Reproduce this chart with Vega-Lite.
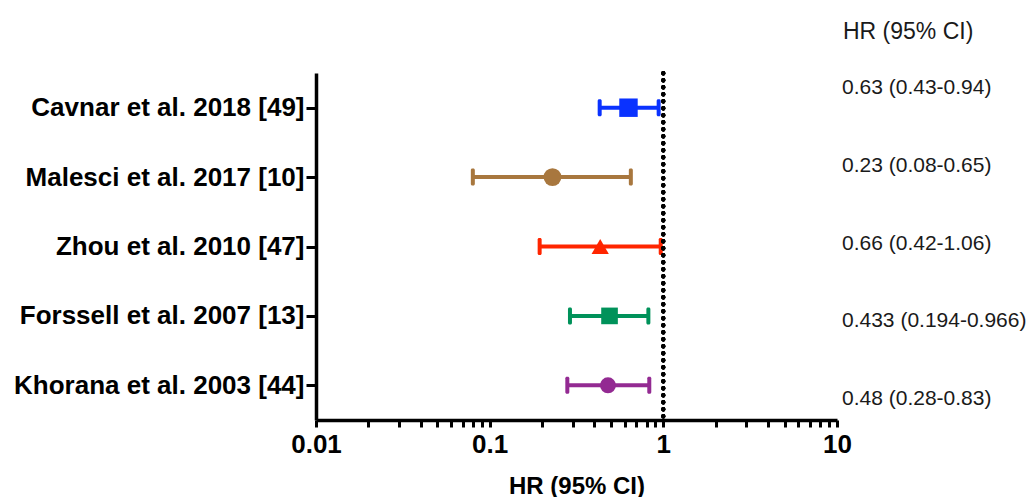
{
  "$schema": "https://vega.github.io/schema/vega-lite/v6.json",
  "autosize": "none",
  "width": 521,
  "height": 347,
  "padding": {"left": 316, "top": 73, "right": 196, "bottom": 77},
  "background": "white",
  "config": {
    "view": {"stroke": null},
    "font": "Liberation Sans"
  },
  "title": {
    "text": "HR (95% CI)",
    "anchor": "end",
    "align": "left",
    "frame": "group",
    "dx": 6,
    "offset": 4,
    "baseline": "bottom",
    "fontSize": 23,
    "fontWeight": "normal",
    "font": "Liberation Sans",
    "color": "#1a1a1a"
  },
  "data": {
    "values": [
      {"study": "Cavnar et al. 2018 [49]", "hr": 0.63, "lo": 0.43, "hi": 0.94, "text": "0.63 (0.43-0.94)"},
      {"study": "Malesci et al. 2017 [10]", "hr": 0.23, "lo": 0.08, "hi": 0.65, "text": "0.23 (0.08-0.65)"},
      {"study": "Zhou et al. 2010 [47]", "hr": 0.433, "lo": 0.194, "hi": 0.966, "text": "0.66 (0.42-1.06)"},
      {"study": "Forssell et al. 2007 [13]", "hr": 0.49, "lo": 0.29, "hi": 0.82, "text": "0.433 (0.194-0.966)"},
      {"study": "Khorana et al. 2003 [44]", "hr": 0.48, "lo": 0.28, "hi": 0.83, "text": "0.48 (0.28-0.83)"}
    ]
  },
  "layer": [
    {
      "layer": [
        {
          "mark": {"type": "rule", "strokeWidth": 4, "opacity": 1},
          "encoding": {
            "x": {"field": "lo", "type": "quantitative"},
            "x2": {"field": "hi"}
          }
        },
        {
          "mark": {"type": "tick", "thickness": 4, "size": 17, "opacity": 1, "cornerRadius": 1.5},
          "encoding": {"x": {"field": "lo", "type": "quantitative"}}
        },
        {
          "mark": {"type": "tick", "thickness": 4, "size": 17, "opacity": 1, "cornerRadius": 1.5},
          "encoding": {"x": {"field": "hi", "type": "quantitative"}}
        },
        {
          "mark": {"type": "point", "filled": true, "opacity": 1},
          "encoding": {
            "x": {"field": "hr", "type": "quantitative"},
            "shape": {
              "field": "study", "type": "nominal", "legend": null,
              "scale": {
                "domain": ["Cavnar et al. 2018 [49]", "Malesci et al. 2017 [10]", "Zhou et al. 2010 [47]", "Forssell et al. 2007 [13]", "Khorana et al. 2003 [44]"],
                "range": ["square", "circle", "triangle-up", "square", "circle"]
              }
            },
            "size": {
              "field": "study", "type": "nominal", "legend": null,
              "scale": {
                "domain": ["Cavnar et al. 2018 [49]", "Malesci et al. 2017 [10]", "Zhou et al. 2010 [47]", "Forssell et al. 2007 [13]", "Khorana et al. 2003 [44]"],
                "range": [340, 256, 170, 196, 169]
              }
            }
          }
        }
      ],
      "encoding": {
        "y": {
          "field": "study", "type": "nominal",
          "sort": ["Cavnar et al. 2018 [49]", "Malesci et al. 2017 [10]", "Zhou et al. 2010 [47]", "Forssell et al. 2007 [13]", "Khorana et al. 2003 [44]"],
          "scale": {"type": "point", "padding": 0.5},
          "axis": {
            "title": null,
            "domainColor": "black", "domainWidth": 3.5,
            "tickColor": "black", "tickWidth": 3, "tickSize": 10,
            "labelFont": "Liberation Sans", "labelFontWeight": "bold", "labelFontSize": 26,
            "labelColor": "black", "labelPadding": 2, "labelLimit": 400
          }
        },
        "color": {
          "field": "study", "type": "nominal", "legend": null,
          "scale": {
            "domain": ["Cavnar et al. 2018 [49]", "Malesci et al. 2017 [10]", "Zhou et al. 2010 [47]", "Forssell et al. 2007 [13]", "Khorana et al. 2003 [44]"],
            "range": ["#0a32ff", "#a8773e", "#ff2500", "#00925a", "#932a92"]
          }
        },
        "x": {
          "type": "quantitative",
          "scale": {"type": "log", "domain": [0.01, 10]},
          "axis": {
            "title": "HR (95% CI)",
            "titleFont": "Liberation Sans", "titleFontSize": 24, "titleFontWeight": "bold", "titleColor": "black",
            "titlePadding": 17,
            "values": [0.01, 0.02, 0.03, 0.04, 0.05, 0.06, 0.07, 0.08, 0.09, 0.1, 0.2, 0.3, 0.4, 0.5, 0.6, 0.7, 0.8, 0.9, 1, 2, 3, 4, 5, 6, 7, 8, 9, 10],
            "format": "~g",
            "labelExpr": "indexof([0.01, 0.1, 1, 10], datum.value) >= 0 ? datum.label : ''",
            "grid": false,
            "domainColor": "black", "domainWidth": 3.5,
            "tickColor": "black", "tickWidth": 3, "tickSize": 7,
            "labelFont": "Liberation Sans", "labelFontWeight": "bold", "labelFontSize": 26,
            "labelColor": "black", "labelPadding": 4, "labelFlush": false, "labelOverlap": false
          }
        }
      }
    },
    {
      "mark": {"type": "rule", "strokeDash": [0.5, 6.5], "strokeCap": "round", "strokeWidth": 4, "color": "black"},
      "encoding": {"x": {"datum": 1, "type": "quantitative", "scale": {"type": "log", "domain": [0.01, 10]}}}
    },
    {
      "mark": {"type": "text", "align": "left", "dx": 5, "dy": -3, "fontSize": 21, "font": "Liberation Sans", "color": "#1a1a1a"},
      "encoding": {
        "x": {"datum": 10, "type": "quantitative", "scale": {"type": "log", "domain": [0.01, 10]}},
        "y": {
          "field": "study", "type": "nominal",
          "sort": ["Cavnar et al. 2018 [49]", "Malesci et al. 2017 [10]", "Zhou et al. 2010 [47]", "Forssell et al. 2007 [13]", "Khorana et al. 2003 [44]"],
          "scale": {"type": "point", "padding": 0.23},
          "axis": null
        },
        "text": {"field": "text"}
      }
    }
  ],
  "resolve": {"scale": {"y": "independent"}}
}
